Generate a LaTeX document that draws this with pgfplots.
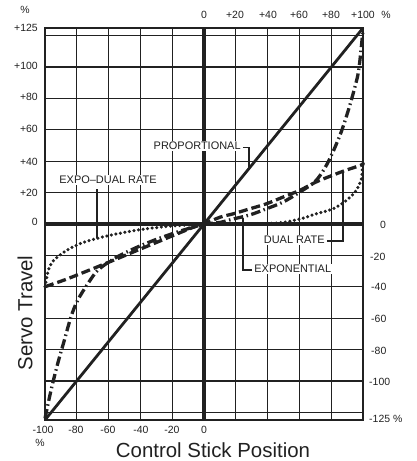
\documentclass[border=0pt]{standalone}
\usepackage{fontspec}
\setmainfont{Liberation Sans}
\usepackage{pgfplots}
\pgfplotsset{compat=1.18}
\definecolor{ink}{gray}{0.13}
\begin{document}
\begin{tikzpicture}[x=1bp,y=1bp]
\useasboundingbox (0,0) rectangle (416,461);
\begin{axis}[
  at={(45bp,41bp)}, anchor=south west, scale only axis,
  width=318bp, height=392bp,
  xmin=-100, xmax=100, ymin=-125, ymax=125,
  xtick={-80,-60,...,80}, ytick={-120,-100,...,120},
  xticklabels={}, yticklabels={}, major tick length=0pt,
  grid=major, major grid style={line width=1bp, color=ink},
  axis line style={line width=1.2bp, color=ink},
  clip=false,
]
% heavy reference lines
\draw[line width=3.8bp, ink] (axis cs:0,-125) -- (axis cs:0,125);
\draw[line width=3.2bp, ink] (axis cs:-100,0) -- (axis cs:100,0);
\draw[line width=2.2bp, ink] (axis cs:-100,100) -- (axis cs:100,100);
\draw[line width=2.2bp, ink] (axis cs:-100,-100) -- (axis cs:100,-100);

% Proportional
\addplot[ink, line width=2.8bp] coordinates {(-100,-125) (100,125)};

% Exponential (dash-dot)
\addplot[ink, line width=3.3bp, smooth, dash pattern=on 9.5bp off 3.5bp on 1.5bp off 3.5bp] coordinates {
(-100,-124) (-96.2,-106) (-92,-89) (-87.8,-74) (-83.6,-59) (-79.4,-48.5)
(-73,-38) (-66.7,-29.4) (-56.2,-21.9) (-43.6,-15.5) (-31,-10.2) (-16.2,-4.9)
(-5.7,-1.7) (0,0) (10,1) (18.4,3.2) (28.9,5.8) (39.3,9.7) (49.8,14) (60.3,20.4)
(69.7,26.9) (75.9,35.5) (81.2,46.2) (86.4,59) (90.6,72) (93.7,82.8) (96.9,95.7)
(98.5,108.6) (100,124)};

% Dual rate (dashed)
\addplot[ink, line width=3.3bp, smooth, dash pattern=on 9bp off 4bp] coordinates {
(-100,-40) (-87.8,-35.7) (-77.3,-31.5) (-66.7,-27.2) (-54,-21.9) (-41.5,-16.6)
(-28.8,-11.3) (-16.2,-6) (-5.7,-1.7) (0,0) (10,4.3) (18.4,6.5) (28.9,9.7)
(39.3,12.9) (49.8,17.2) (60.3,21.5) (70.7,26.9) (81.2,31.2) (89.5,34.4) (99,37.6) (100,39)};

% Expo-dual rate (dotted)
\addplot[ink, line width=3.5bp, smooth, line cap=round, dash pattern=on 0bp off 4.6bp] coordinates {
(-100,-40) (-99,-35) (-98,-30) (-95.2,-24) (-87.8,-17.7) (-77.3,-12.3) (-62.5,-8)
(-41.5,-3.8) (-20.4,-1.3) (0,0) (20,0) (40,0.3) (49.8,1) (60.3,3.2) (70.7,6.5)
(81.2,9.7) (89.5,15) (95.8,21.5) (99,29) (99.6,35.5) (100,40)};

% leader lines
\draw[ink, line width=1.2bp] (axis cs:24.5,49) -- (axis cs:28.3,49) -- (axis cs:28.3,36.5);
\draw[ink, line width=1.2bp] (axis cs:-67.3,22.3) -- (axis cs:-67.3,-9);
\draw[ink, line width=1.2bp] (axis cs:77.4,-10.8) -- (axis cs:87.4,-10.8) -- (axis cs:87.4,33.5);
\draw[ink, line width=1.2bp] (axis cs:30,-29.3) -- (axis cs:24.5,-29.3) -- (axis cs:24.5,4);
\end{axis}

% tick labels
\begin{scope}[every node/.style={inner sep=0pt, font=\fontsize{10.5}{12}\selectfont, text=ink}]
\node at (25,451) {\%};
\node[anchor=east] at (38,433) {+125};
\node[anchor=east] at (38,395) {+100};
\node[anchor=east] at (38,364) {+80};
\node[anchor=east] at (38,332) {+60};
\node[anchor=east] at (38,299) {+40};
\node[anchor=east] at (38,268) {+20};
\node[anchor=east] at (38,239) {0};
% top
\node at (204,446) {0};
\node at (235,446) {+20};
\node at (268,446) {+40};
\node at (299,446) {+60};
\node at (331,446) {+80};
\node at (363,446) {+100};
\node at (386,446) {\%};
% right
\node at (383,236) {0};
\node[anchor=west] at (370,204) {-20};
\node[anchor=west] at (371,174) {-40};
\node[anchor=west] at (371,142) {-60};
\node[anchor=west] at (371,110) {-80};
\node[anchor=west] at (369,79) {-100};
\node[anchor=west] at (369,42) {-125 \%};
% bottom
\node at (43,31) {-100};
\node at (76,31) {-80};
\node at (108,31) {-60};
\node at (141,31) {-40};
\node at (172,31) {-20};
\node at (204,31) {0};
\node at (40,18) {\%};
\end{scope}

% annotations
\begin{scope}[every node/.style={inner sep=1.2bp, fill=white, font=\fontsize{11}{13}\selectfont, text=ink}]
\node[anchor=east] at (242,315) {PROPORTIONAL};
\node at (108,281) {EXPO--DUAL RATE};
\node[anchor=east] at (326,221) {DUAL RATE};
\node[anchor=west] at (253,192) {EXPONENTIAL};
\end{scope}

% axis titles
\node[rotate=90, inner sep=0pt, font=\fontsize{20.5}{24}\selectfont, text=ink] at (25,148) {Servo Travel};
\node[inner sep=0pt, font=\fontsize{20.5}{24}\selectfont, text=ink] at (213,11) {Control Stick Position};
\end{tikzpicture}
\end{document}
